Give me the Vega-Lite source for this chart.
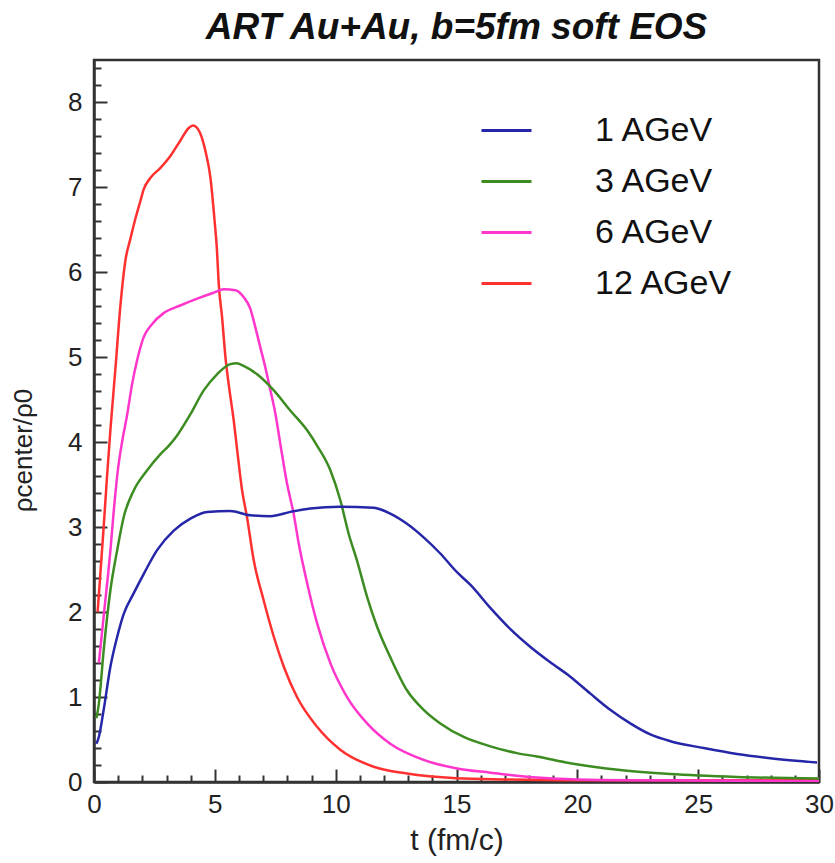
{
  "$schema": "https://vega.github.io/schema/vega-lite/v6.json",
  "width": 725,
  "height": 722,
  "autosize": {"type": "none"},
  "padding": {"left": 94, "top": 60, "right": 16, "bottom": 81},
  "background": "white",
  "title": {"text": "ART Au+Au, b=5fm soft EOS", "font": "Liberation Sans", "fontSize": 37, "fontStyle": "italic", "fontWeight": "bold", "color": "#111", "anchor": "middle", "offset": 8},
  "config": {
    "view": {"stroke": "#333", "strokeWidth": 2.5},
    "axis": {"labelFont": "Liberation Sans", "titleFont": "Liberation Sans", "labelColor": "#222", "titleColor": "#222", "domainColor": "#333", "domainWidth": 2.5, "tickColor": "#333", "tickWidth": 2, "grid": false, "labelFontSize": 26, "titleFontSize": 30, "titleFontWeight": "normal"}
  },
  "data": {"values": [
    {"t": 0.15, "rho": 2.0, "s": "12 AGeV"},
    {"t": 0.4, "rho": 3.0, "s": "12 AGeV"},
    {"t": 0.54, "rho": 3.6, "s": "12 AGeV"},
    {"t": 0.68, "rho": 4.15, "s": "12 AGeV"},
    {"t": 0.89, "rho": 4.88, "s": "12 AGeV"},
    {"t": 1.09, "rho": 5.6, "s": "12 AGeV"},
    {"t": 1.3, "rho": 6.14, "s": "12 AGeV"},
    {"t": 1.51, "rho": 6.4, "s": "12 AGeV"},
    {"t": 1.72, "rho": 6.64, "s": "12 AGeV"},
    {"t": 1.92, "rho": 6.84, "s": "12 AGeV"},
    {"t": 2.06, "rho": 6.98, "s": "12 AGeV"},
    {"t": 2.33, "rho": 7.11, "s": "12 AGeV"},
    {"t": 2.75, "rho": 7.23, "s": "12 AGeV"},
    {"t": 3.16, "rho": 7.37, "s": "12 AGeV"},
    {"t": 3.57, "rho": 7.55, "s": "12 AGeV"},
    {"t": 3.92, "rho": 7.7, "s": "12 AGeV"},
    {"t": 4.1, "rho": 7.73, "s": "12 AGeV"},
    {"t": 4.27, "rho": 7.7, "s": "12 AGeV"},
    {"t": 4.47, "rho": 7.58, "s": "12 AGeV"},
    {"t": 4.61, "rho": 7.43, "s": "12 AGeV"},
    {"t": 4.82, "rho": 7.11, "s": "12 AGeV"},
    {"t": 4.98, "rho": 6.64, "s": "12 AGeV"},
    {"t": 5.09, "rho": 6.25, "s": "12 AGeV"},
    {"t": 5.16, "rho": 5.87, "s": "12 AGeV"},
    {"t": 5.3, "rho": 5.47, "s": "12 AGeV"},
    {"t": 5.44, "rho": 5.0, "s": "12 AGeV"},
    {"t": 5.57, "rho": 4.69, "s": "12 AGeV"},
    {"t": 5.78, "rho": 4.26, "s": "12 AGeV"},
    {"t": 5.92, "rho": 3.92, "s": "12 AGeV"},
    {"t": 6.13, "rho": 3.43, "s": "12 AGeV"},
    {"t": 6.33, "rho": 3.12, "s": "12 AGeV"},
    {"t": 6.61, "rho": 2.61, "s": "12 AGeV"},
    {"t": 7.02, "rho": 2.14, "s": "12 AGeV"},
    {"t": 7.44, "rho": 1.71, "s": "12 AGeV"},
    {"t": 7.85, "rho": 1.36, "s": "12 AGeV"},
    {"t": 8.4, "rho": 1.0, "s": "12 AGeV"},
    {"t": 9.23, "rho": 0.65, "s": "12 AGeV"},
    {"t": 10.19, "rho": 0.38, "s": "12 AGeV"},
    {"t": 11.57, "rho": 0.18, "s": "12 AGeV"},
    {"t": 12.95, "rho": 0.1, "s": "12 AGeV"},
    {"t": 15.0, "rho": 0.045, "s": "12 AGeV"},
    {"t": 17.0, "rho": 0.03, "s": "12 AGeV"},
    {"t": 20.0, "rho": 0.02, "s": "12 AGeV"},
    {"t": 25.0, "rho": 0.02, "s": "12 AGeV"},
    {"t": 30.0, "rho": 0.02, "s": "12 AGeV"},

    {"t": 0.2, "rho": 1.4, "s": "6 AGeV"},
    {"t": 0.4, "rho": 1.95, "s": "6 AGeV"},
    {"t": 0.68, "rho": 2.73, "s": "6 AGeV"},
    {"t": 0.82, "rho": 3.2, "s": "6 AGeV"},
    {"t": 1.0, "rho": 3.7, "s": "6 AGeV"},
    {"t": 1.16, "rho": 4.0, "s": "6 AGeV"},
    {"t": 1.37, "rho": 4.32, "s": "6 AGeV"},
    {"t": 1.58, "rho": 4.69, "s": "6 AGeV"},
    {"t": 1.78, "rho": 4.96, "s": "6 AGeV"},
    {"t": 2.06, "rho": 5.24, "s": "6 AGeV"},
    {"t": 2.4, "rho": 5.39, "s": "6 AGeV"},
    {"t": 2.88, "rho": 5.52, "s": "6 AGeV"},
    {"t": 3.57, "rho": 5.61, "s": "6 AGeV"},
    {"t": 4.27, "rho": 5.69, "s": "6 AGeV"},
    {"t": 4.95, "rho": 5.76, "s": "6 AGeV"},
    {"t": 5.37, "rho": 5.8, "s": "6 AGeV"},
    {"t": 5.85, "rho": 5.79, "s": "6 AGeV"},
    {"t": 6.19, "rho": 5.71, "s": "6 AGeV"},
    {"t": 6.47, "rho": 5.57, "s": "6 AGeV"},
    {"t": 6.68, "rho": 5.35, "s": "6 AGeV"},
    {"t": 6.88, "rho": 5.12, "s": "6 AGeV"},
    {"t": 7.09, "rho": 4.88, "s": "6 AGeV"},
    {"t": 7.3, "rho": 4.61, "s": "6 AGeV"},
    {"t": 7.51, "rho": 4.33, "s": "6 AGeV"},
    {"t": 7.71, "rho": 3.98, "s": "6 AGeV"},
    {"t": 7.99, "rho": 3.51, "s": "6 AGeV"},
    {"t": 8.26, "rho": 3.16, "s": "6 AGeV"},
    {"t": 8.47, "rho": 2.81, "s": "6 AGeV"},
    {"t": 8.82, "rho": 2.34, "s": "6 AGeV"},
    {"t": 9.23, "rho": 1.87, "s": "6 AGeV"},
    {"t": 9.78, "rho": 1.4, "s": "6 AGeV"},
    {"t": 10.47, "rho": 1.0, "s": "6 AGeV"},
    {"t": 11.3, "rho": 0.69, "s": "6 AGeV"},
    {"t": 12.26, "rho": 0.45, "s": "6 AGeV"},
    {"t": 13.64, "rho": 0.26, "s": "6 AGeV"},
    {"t": 15.02, "rho": 0.16, "s": "6 AGeV"},
    {"t": 16.4, "rho": 0.11, "s": "6 AGeV"},
    {"t": 18.0, "rho": 0.06, "s": "6 AGeV"},
    {"t": 20.0, "rho": 0.03, "s": "6 AGeV"},
    {"t": 23.0, "rho": 0.02, "s": "6 AGeV"},
    {"t": 30.0, "rho": 0.01, "s": "6 AGeV"},

    {"t": 0.1, "rho": 0.75, "s": "3 AGeV"},
    {"t": 0.2, "rho": 0.92, "s": "3 AGeV"},
    {"t": 0.4, "rho": 1.55, "s": "3 AGeV"},
    {"t": 0.68, "rho": 2.26, "s": "3 AGeV"},
    {"t": 0.96, "rho": 2.73, "s": "3 AGeV"},
    {"t": 1.23, "rho": 3.12, "s": "3 AGeV"},
    {"t": 1.64, "rho": 3.43, "s": "3 AGeV"},
    {"t": 2.2, "rho": 3.67, "s": "3 AGeV"},
    {"t": 2.75, "rho": 3.86, "s": "3 AGeV"},
    {"t": 3.1, "rho": 3.96, "s": "3 AGeV"},
    {"t": 3.44, "rho": 4.08, "s": "3 AGeV"},
    {"t": 3.99, "rho": 4.33, "s": "3 AGeV"},
    {"t": 4.54, "rho": 4.61, "s": "3 AGeV"},
    {"t": 5.09, "rho": 4.8, "s": "3 AGeV"},
    {"t": 5.64, "rho": 4.92, "s": "3 AGeV"},
    {"t": 5.9, "rho": 4.93, "s": "3 AGeV"},
    {"t": 6.19, "rho": 4.9, "s": "3 AGeV"},
    {"t": 6.75, "rho": 4.8, "s": "3 AGeV"},
    {"t": 7.44, "rho": 4.61, "s": "3 AGeV"},
    {"t": 8.13, "rho": 4.37, "s": "3 AGeV"},
    {"t": 8.82, "rho": 4.14, "s": "3 AGeV"},
    {"t": 9.23, "rho": 3.96, "s": "3 AGeV"},
    {"t": 9.78, "rho": 3.67, "s": "3 AGeV"},
    {"t": 10.19, "rho": 3.32, "s": "3 AGeV"},
    {"t": 10.54, "rho": 2.92, "s": "3 AGeV"},
    {"t": 10.88, "rho": 2.61, "s": "3 AGeV"},
    {"t": 11.3, "rho": 2.18, "s": "3 AGeV"},
    {"t": 11.71, "rho": 1.83, "s": "3 AGeV"},
    {"t": 12.26, "rho": 1.47, "s": "3 AGeV"},
    {"t": 12.95, "rho": 1.08, "s": "3 AGeV"},
    {"t": 13.64, "rho": 0.85, "s": "3 AGeV"},
    {"t": 14.33, "rho": 0.69, "s": "3 AGeV"},
    {"t": 15.3, "rho": 0.53, "s": "3 AGeV"},
    {"t": 16.4, "rho": 0.42, "s": "3 AGeV"},
    {"t": 17.5, "rho": 0.34, "s": "3 AGeV"},
    {"t": 18.33, "rho": 0.3, "s": "3 AGeV"},
    {"t": 19.71, "rho": 0.22, "s": "3 AGeV"},
    {"t": 21.78, "rho": 0.14, "s": "3 AGeV"},
    {"t": 23.85, "rho": 0.094, "s": "3 AGeV"},
    {"t": 26.61, "rho": 0.06, "s": "3 AGeV"},
    {"t": 30.0, "rho": 0.04, "s": "3 AGeV"},

    {"t": 0.1, "rho": 0.45, "s": "1 AGeV"},
    {"t": 0.2, "rho": 0.53, "s": "1 AGeV"},
    {"t": 0.4, "rho": 0.85, "s": "1 AGeV"},
    {"t": 0.68, "rho": 1.36, "s": "1 AGeV"},
    {"t": 0.96, "rho": 1.71, "s": "1 AGeV"},
    {"t": 1.23, "rho": 1.98, "s": "1 AGeV"},
    {"t": 1.64, "rho": 2.22, "s": "1 AGeV"},
    {"t": 2.06, "rho": 2.45, "s": "1 AGeV"},
    {"t": 2.61, "rho": 2.73, "s": "1 AGeV"},
    {"t": 3.3, "rho": 2.96, "s": "1 AGeV"},
    {"t": 3.99, "rho": 3.1, "s": "1 AGeV"},
    {"t": 4.68, "rho": 3.18, "s": "1 AGeV"},
    {"t": 5.64, "rho": 3.19, "s": "1 AGeV"},
    {"t": 6.47, "rho": 3.14, "s": "1 AGeV"},
    {"t": 7.3, "rho": 3.13, "s": "1 AGeV"},
    {"t": 8.13, "rho": 3.18, "s": "1 AGeV"},
    {"t": 8.95, "rho": 3.22, "s": "1 AGeV"},
    {"t": 10.19, "rho": 3.24, "s": "1 AGeV"},
    {"t": 11.57, "rho": 3.23, "s": "1 AGeV"},
    {"t": 12.26, "rho": 3.16, "s": "1 AGeV"},
    {"t": 12.95, "rho": 3.04, "s": "1 AGeV"},
    {"t": 13.64, "rho": 2.88, "s": "1 AGeV"},
    {"t": 14.33, "rho": 2.69, "s": "1 AGeV"},
    {"t": 15.02, "rho": 2.47, "s": "1 AGeV"},
    {"t": 15.58, "rho": 2.32, "s": "1 AGeV"},
    {"t": 16.4, "rho": 2.05, "s": "1 AGeV"},
    {"t": 17.23, "rho": 1.8, "s": "1 AGeV"},
    {"t": 18.06, "rho": 1.59, "s": "1 AGeV"},
    {"t": 18.88, "rho": 1.41, "s": "1 AGeV"},
    {"t": 19.71, "rho": 1.24, "s": "1 AGeV"},
    {"t": 20.54, "rho": 1.04, "s": "1 AGeV"},
    {"t": 21.36, "rho": 0.85, "s": "1 AGeV"},
    {"t": 22.19, "rho": 0.69, "s": "1 AGeV"},
    {"t": 23.02, "rho": 0.56, "s": "1 AGeV"},
    {"t": 23.85, "rho": 0.48, "s": "1 AGeV"},
    {"t": 25.23, "rho": 0.4, "s": "1 AGeV"},
    {"t": 26.61, "rho": 0.33, "s": "1 AGeV"},
    {"t": 27.98, "rho": 0.28, "s": "1 AGeV"},
    {"t": 29.92, "rho": 0.23, "s": "1 AGeV"}
  ]},
  "mark": {"type": "line", "interpolate": "monotone", "strokeWidth": 2.5, "clip": true},
  "encoding": {
    "x": {"field": "t", "type": "quantitative", "scale": {"domain": [0, 30], "nice": false},
      "axis": {"title": "t (fm/c)", "values": [0,1,2,3,4,5,6,7,8,9,10,11,12,13,14,15,16,17,18,19,20,21,22,23,24,25,26,27,28,29,30],
        "labelExpr": "datum.value % 5 === 0 ? datum.label : ''",
        "tickSize": {"condition": {"test": "datum.value % 5 === 0", "value": -13}, "value": -7},
        "labelPadding": 22, "titlePadding": 2, "labelFlush": false, "labelOverlap": false}},
    "y": {"field": "rho", "type": "quantitative", "scale": {"domain": [0, 8.5], "nice": false},
      "axis": {"title": "ρcenter/ρ0", "titleFontSize": 26, "titleX": -58, "titleY": 390, "values": [0,0.2,0.4,0.6,0.8,1,1.2,1.4,1.6,1.8,2,2.2,2.4,2.6,2.8,3,3.2,3.4,3.6,3.8,4,4.2,4.4,4.6,4.8,5,5.2,5.4,5.6,5.8,6,6.2,6.4,6.6,6.8,7,7.2,7.4,7.6,7.8,8,8.2,8.4],
        "labelExpr": "abs(datum.value - round(datum.value)) < 0.01 ? format(round(datum.value), 'd') : ''",
        "tickSize": {"condition": {"test": "abs(datum.value - round(datum.value)) < 0.01", "value": -13}, "value": -7},
        "labelPadding": 25, "labelFlush": false, "labelOverlap": false}},
    "color": {"field": "s", "type": "nominal",
      "scale": {"domain": ["1 AGeV", "3 AGeV", "6 AGeV", "12 AGeV"], "range": ["#2626a8", "#3d8c22", "#ff36cc", "#ff3030"]},
      "legend": {"title": null, "orient": "none", "legendX": 386, "legendY": 44, "symbolType": "stroke", "symbolSize": 2500, "symbolStrokeWidth": 3, "labelFont": "Liberation Sans", "labelFontSize": 34, "labelColor": "#111", "labelOffset": 62, "rowPadding": 7, "padding": 0}}
  }
}
